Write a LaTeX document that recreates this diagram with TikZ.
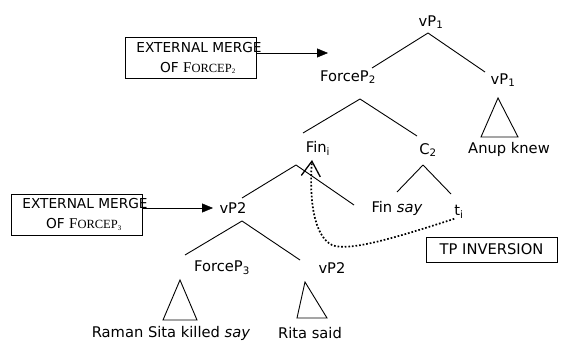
\documentclass[tikz,border=0pt]{standalone}
\usepackage{fontspec}
\setmainfont{DejaVu Sans}
\newfontfamily\scserif{Liberation Serif}
\usepackage{tikz}
\usetikzlibrary{arrows.meta, positioning, calc}
\tikzstyle{mergebox} = [draw=black, thin, minimum width=131pt, minimum height=41pt, inner sep=0pt, align=center, font=\fontsize{13.7}{20}\selectfont]
\tikzstyle{arrow} = [thin, -{Triangle[length=11pt, width=9pt]}]
\newcommand{\fcp}[1]{{\scserif\fontsize{15}{10}\selectfont F\fontsize{12.5}{10}\selectfont ORCEP\fontsize{10}{10}\selectfont\textsubscript{#1}}}

\begin{document}
\begin{tikzpicture}[
    x=1pt, y=-1pt,
    lbl/.style={inner sep=0pt, font=\fontsize{14.7}{16}\selectfont},
    branch/.style={line width=0.9pt},
    movement/.style={line width=1.7pt, dash pattern=on 1.7pt off 1.9pt, -{Straight Barb[length=15pt, width=19pt, line width=1.3pt]}}]
    \useasboundingbox (0,0) rectangle (565,342);
    % labels of the tree
    \node[lbl] (vPtop)   at (431,22)  {vP\textsubscript{1}};
    \node[lbl] (forceB)  at (348,77)  {ForceP\textsubscript{2}};
    \node[lbl] (vPright) at (503,80)  {vP\textsubscript{1}};
    \node[lbl] (anup)    at (509,149) {Anup knew};
    \node[lbl] (fin)     at (318,148) {Fin\textsubscript{i}};
    \node[lbl] (cB)      at (428,150) {C\textsubscript{2}};
    \node[lbl] (vPmid)   at (233,208) {vP2};
    \node[lbl] (finsay)  at (397,208) {Fin \textit{say}};
    \node[lbl] (trace)   at (459,212) {t\textsubscript{i}};
    \node[lbl] (forceC)  at (222,268) {ForceP\textsubscript{3}};
    \node[lbl] (vPlow)   at (332,268) {vP2};
    \node[lbl] (raman)   at (171,333) {Raman Sita killed \textit{say}};
    \node[lbl] (rita)    at (310,333) {Rita said};
    % boxes
    \node[mergebox] (mergeB) at (190.5,58)  {\makebox[0pt]{\hspace*{17pt}EXTERNAL MERGE}\\\makebox[0pt]{\hspace*{15pt}OF \fcp{2}}};
    \node[mergebox] (mergeC) at (76.5,214.5) {\makebox[0pt]{\hspace*{17pt}EXTERNAL MERGE}\\\makebox[0pt]{\hspace*{15pt}OF \fcp{3}}};
    \node[draw=black, thin, minimum width=131pt, minimum height=25pt, inner sep=0pt, font=\fontsize{14.7}{16}\selectfont] (tpinv) at (491.5,249.5) {TP INVERSION};
    % branch points
    \coordinate (vPtop-s)  at (428,33);
    \coordinate (forceB-s) at (360,99);
    \coordinate (fin-s)    at (296,165);
    \coordinate (cB-s)     at (423,165);
    \coordinate (vPmid-s)  at (242,221);
    \draw[branch] (vPtop-s) -- (372,68);
    \draw[branch] (vPtop-s) -- (485,72);
    \draw[branch] (forceB-s) -- (303,133);
    \draw[branch] (forceB-s) -- (417,136);
    \draw[branch] (fin-s) -- (242,198);
    \draw[branch] (fin-s) -- (354,205);
    \draw[branch] (cB-s) -- (397,192);
    \draw[branch] (cB-s) -- (451,194);
    \draw[branch] (vPmid-s) -- (185,255);
    \draw[branch] (vPmid-s) -- (300,260);
    % triangles
    \draw[branch] (498,98) -- (481,137) -- (518,137) -- cycle;
    \draw[branch] (180,280) -- (163,320) -- (197,320) -- cycle;
    \draw[branch] (305,282) -- (297,318) -- (327,318) -- cycle;
    % merge arrows
    \coordinate (mergeB-end) at (328,53);
    \coordinate (mergeC-end) at (213,208);
    \draw[arrow] (mergeB.east |- mergeB-end) -- (mergeB-end);
    \draw[arrow] (mergeC.east |- mergeC-end) -- (mergeC-end);
    % movement of the trace
    \draw[movement] (trace.south west) .. controls (395,238) and (348,252) .. (332,245)
        .. controls (314,236) and (309,200) .. (312,160);
\end{tikzpicture}
\end{document}
